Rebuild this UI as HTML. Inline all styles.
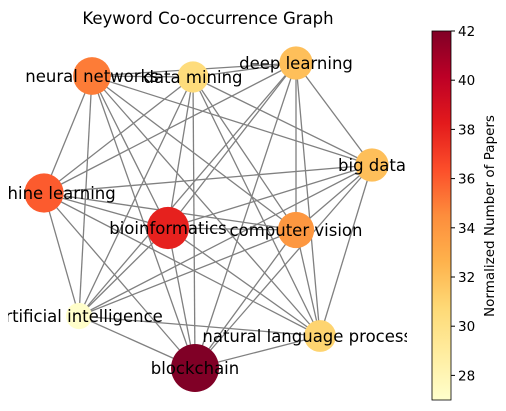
<!DOCTYPE html>
<html><head><meta charset="utf-8"><style>
body{margin:0;background:#fff;}
svg{display:block;font-family:"DejaVu Sans","Liberation Sans",sans-serif;}
</style></head><body>
<svg id="chart" width="506" height="411" viewBox="0 0 506 411">
<defs>
<clipPath id="axclip"><rect x="8" y="28" width="399" height="383"/></clipPath>
<linearGradient id="cbgrad" x1="0" y1="1" x2="0" y2="0">
<stop offset="0" stop-color="#ffffcc"/><stop offset="0.125" stop-color="#ffeda0"/><stop offset="0.25" stop-color="#fed976"/><stop offset="0.375" stop-color="#feb24c"/><stop offset="0.5" stop-color="#fd8d3c"/><stop offset="0.625" stop-color="#fc4e2a"/><stop offset="0.75" stop-color="#e31a1c"/><stop offset="0.875" stop-color="#bd0026"/><stop offset="1" stop-color="#800026"/>
</linearGradient>
</defs>
<text x="208" y="24" text-anchor="middle" font-size="16.5">Keyword Co-occurrence Graph</text>
<g id="graph" clip-path="url(#axclip)">
<g id="edges"></g>
<g id="nodes"></g>
<g id="labels"></g>
</g>
<g id="colorbar">
<rect x="432" y="31" width="19" height="369" fill="url(#cbgrad)" stroke="#000" stroke-width="0.8"/>
<g id="cbticks"></g>
<text transform="translate(494,216) rotate(-90)" text-anchor="middle" font-size="13.5">Normalized Number of Papers</text>
</g>
</svg>
<script>
const keywords=["neural networks","data mining","deep learning","big data","machine learning","bioinformatics","computer vision","artificial intelligence","natural language processing","blockchain"];
const papers=[35,30.5,32,32,36,38,34,27.1,31,42];
const cbTicks=[28,30,32,34,36,38,40,42];
// layout positions (spring layout result)
const nodeX=[92,193,296,372,44,168,296,79,320,195];
const nodeY=[76,77,63,165,193,228,230,316,336,368];
const vmin=27,vmax=42;
const stops=["#ffffcc","#ffeda0","#fed976","#feb24c","#fd8d3c","#fc4e2a","#e31a1c","#bd0026","#800026"];
function hex(c){return [1,3,5].map(i=>parseInt(c.substr(i,2),16));}
function cmap(v){let t=Math.max(0,Math.min(1,(v-vmin)/(vmax-vmin)))*8;let i=Math.min(7,Math.floor(t));let f=t-i;
const a=hex(stops[i]),b=hex(stops[i+1]);return "rgb("+a.map((x,k)=>Math.round(x+(b[k]-x)*f)).join(",")+")";}
function rad(v){return 13+(v-vmin)/(vmax-vmin)*11;}
const NS="http://www.w3.org/2000/svg";
const eg=document.getElementById('edges'),ng=document.getElementById('nodes'),lg=document.getElementById('labels');
for(let i=0;i<keywords.length;i++)for(let j=i+1;j<keywords.length;j++){
const l=document.createElementNS(NS,'line');
l.setAttribute('x1',nodeX[i]);l.setAttribute('y1',nodeY[i]);l.setAttribute('x2',nodeX[j]);l.setAttribute('y2',nodeY[j]);
l.setAttribute('stroke','#808080');l.setAttribute('stroke-width','1.3');


eg.appendChild(l);}
keywords.forEach((k,i)=>{
const c=document.createElementNS(NS,'circle');
c.setAttribute('cx',nodeX[i]);c.setAttribute('cy',nodeY[i]);c.setAttribute('r',rad(papers[i]));c.setAttribute('fill',cmap(papers[i]));


ng.appendChild(c);
const t=document.createElementNS(NS,'text');
t.setAttribute('x',nodeX[i]);t.setAttribute('y',nodeY[i]+6);t.setAttribute('text-anchor','middle');t.setAttribute('font-size','16.5');
t.textContent=k;


lg.appendChild(t);});
const tg=document.getElementById('cbticks');
function cy(v){return 400-(v-vmin)/(vmax-vmin)*369;}
cbTicks.forEach(v=>{
const l=document.createElementNS(NS,'line');
l.setAttribute('x1',451);l.setAttribute('x2',455);l.setAttribute('y1',cy(v));l.setAttribute('y2',cy(v));l.setAttribute('stroke','#000');


tg.appendChild(l);
const t=document.createElementNS(NS,'text');
t.setAttribute('x',458);t.setAttribute('y',cy(v)+5);t.setAttribute('font-size','13.5');t.textContent=v;


tg.appendChild(t);});
</script>
</body></html>
